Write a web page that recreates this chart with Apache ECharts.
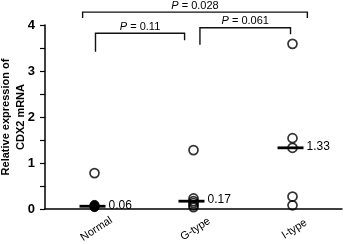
<!DOCTYPE html>
<html><head><meta charset="utf-8">
<script src="https://cdn.jsdelivr.net/npm/echarts@6/dist/echarts.min.js"></script>
<style>html,body{margin:0;padding:0;background:#fff}#c{width:344px;height:244px}</style>
</head><body><div id="c"></div>
<script>
var categories = ['Normal', 'G-type', 'I-type'];
var normalValues = [0.78];
var normalClusterValues = [0.09, 0.07, 0.06, 0.05, 0.04];
var gTypeValues = [1.28, 0.23, 0.17, 0.13, 0.08, 0.04];
var iTypeValues = [3.59, 1.54, 1.33, 0.27, 0.08];
var medians = [0.06, 0.17, 1.33];
var medianLabels = ['0.06', '0.17', '1.33'];
var comparisons = [[0, 2], [0, 1], [1, 2]];
var pValues = ['0.028', '0.11', '0.061'];
var yTicks = [0, 1, 2, 3, 4];

var FONT = '"Liberation Sans Narrow", "Liberation Sans", Arial, sans-serif';
var bracketLayout = [
  {top: 4.28, left: 4.15, right: 4.15, dx1: -0.12, dx2: 0.15},
  {top: 3.82, left: 3.42, right: 3.67, dx1: 0.01, dx2: -0.09},
  {top: 3.94, left: 3.57, right: 3.80, dx1: 0.065, dx2: -0.02}
];

var pointData = [];
[normalValues, gTypeValues, iTypeValues].forEach(function (arr, i) {
  arr.forEach(function (v) { pointData.push([i, v]); });
});
var clusterData = normalClusterValues.map(function (v) { return [0, v]; });
var medianData = medians.map(function (m, i) { return [i, m]; });
var labelData = categories.map(function (c, i) { return [i, 0]; });
var bracketData = comparisons.map(function (c, i) {
  var L = bracketLayout[i];
  return [c[0], c[1], L.top, L.left, L.right, L.dx1, L.dx2];
});

var chart = echarts.init(document.getElementById('c'), null, {renderer: 'canvas'});
chart.setOption({
  animation: false,
  grid: {left: 45, right: 2, top: 25, bottom: 35, containLabel: false, outerBoundsMode: 'none'},
  xAxis: {
    type: 'category', data: categories, boundaryGap: true,
    axisLine: {lineStyle: {color: '#000', width: 1.5}},
    axisTick: {show: false},
    axisLabel: {show: false}
  },
  yAxis: {
    type: 'value', min: 0, max: 4, interval: 0.5,
    name: 'Relative expression of\nCDX2 mRNA', nameLocation: 'middle', nameGap: 17, nameMoveOverlap: false,
    nameTextStyle: {color: '#000', fontSize: 11, fontWeight: 'bold', fontFamily: FONT, lineHeight: 15},
    axisLine: {show: true, lineStyle: {color: '#000', width: 1.5}},
    axisTick: {show: true, inside: false, length: 5, lineStyle: {color: '#000', width: 1.2}},
    splitLine: {show: false},
    axisLabel: {margin: 10, color: '#000', fontSize: 13, fontWeight: 'bold', fontFamily: FONT,
      formatter: function (v) { return yTicks.indexOf(v) >= 0 ? String(v) : ''; }}
  },
  series: [
    {
      type: 'scatter', data: pointData, symbol: 'circle', symbolSize: 9,
      itemStyle: {color: 'rgba(0,0,0,0)', borderColor: '#000', borderWidth: 1.7}, z: 3
    },
    {
      type: 'scatter', data: clusterData, symbol: 'circle', symbolSize: 9,
      itemStyle: {color: '#000', borderColor: '#000', borderWidth: 1}, z: 3
    },
    {
      type: 'custom', data: medianData, z: 4,
      renderItem: function (params, api) {
        var p = api.coord([api.value(0), api.value(1)]);
        return {type: 'group', children: [
          {type: 'line', shape: {x1: p[0] - 15, y1: p[1], x2: p[0] + 11, y2: p[1]},
            style: {stroke: '#000', lineWidth: 2.8}},
          {type: 'text', x: p[0] + 14, y: p[1] - 1,
            style: {text: medianLabels[params.dataIndex], fill: '#000', font: '12px ' + FONT,
              textAlign: 'left', textVerticalAlign: 'middle'}}
        ]};
      }
    },
    {
      type: 'custom', data: labelData, z: 4, clip: false,
      renderItem: function (params, api) {
        var p = api.coord([api.value(0), api.value(1)]);
        return {type: 'text', x: p[0] + 2, y: p[1] + 20, rotation: Math.PI * 33 / 180,
          style: {text: categories[params.dataIndex], fill: '#000', font: '11px ' + FONT,
            textAlign: 'center', textVerticalAlign: 'middle'}};
      }
    },
    {
      type: 'custom', data: bracketData, z: 5, clip: false,
      renderItem: function (params, api) {
        var bw = api.size([1, 0])[0];
        var a = api.coord([api.value(0), api.value(2)]);
        var b = api.coord([api.value(1), api.value(2)]);
        var x1 = a[0] + api.value(5) * bw, x2 = b[0] + api.value(6) * bw;
        var yl = api.coord([api.value(0), api.value(3)])[1];
        var yr = api.coord([api.value(1), api.value(4)])[1];
        var yt = a[1];
        return {type: 'group', children: [
          {type: 'polyline', shape: {points: [[x1, yl], [x1, yt], [x2, yt], [x2, yr]]},
            style: {stroke: '#111', lineWidth: 1.4, fill: null}},
          {type: 'text', x: (x1 + x2) / 2, y: yt - 1,
            style: {text: '{i|P} = ' + pValues[params.dataIndex], textAlign: 'center', textVerticalAlign: 'bottom',
              fill: '#000', font: '11px ' + FONT,
              rich: {i: {fontStyle: 'italic', fontSize: 11, fontFamily: FONT, fill: '#000'}}}}
        ]};
      }
    }
  ]
});
</script></body></html>
